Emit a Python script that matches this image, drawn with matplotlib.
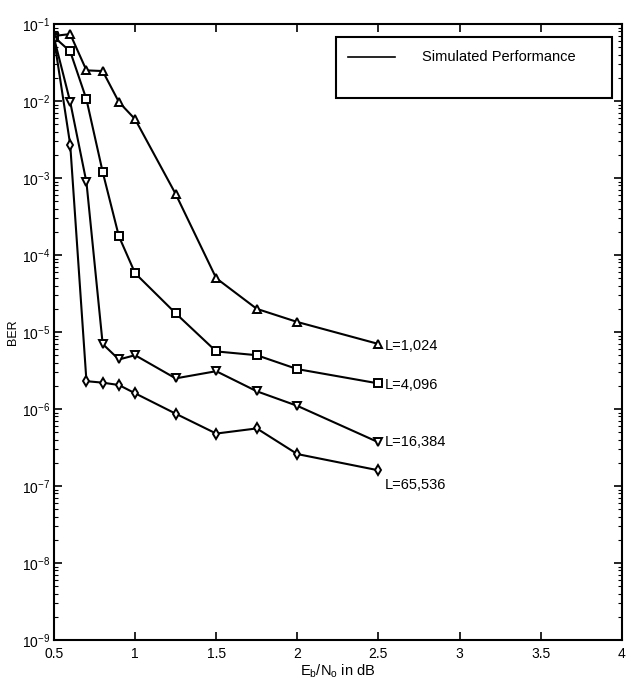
import matplotlib
matplotlib.use("Agg")
import matplotlib.pyplot as plt
import numpy as np
from matplotlib.patches import Rectangle
from matplotlib.lines import Line2D
from matplotlib.ticker import NullFormatter

## data
ebno = [0.5, 0.6, 0.7, 0.8, 0.9, 1.0, 1.25, 1.5, 1.75, 2.0, 2.5]

ber_1024 = [7.0e-2, 7.4e-2, 2.5e-2, 2.45e-2, 9.7e-3, 5.8e-3, 6.2e-4, 5.0e-5, 2.0e-5, 1.35e-5, 7.0e-6]
ber_4096 = [6.8e-2, 4.4e-2, 1.05e-2, 1.2e-3, 1.75e-4, 5.8e-5, 1.75e-5, 5.6e-6, 5.0e-6, 3.3e-6, 2.15e-6]
ber_16384 = [6.6e-2, 9.7e-3, 8.8e-4, 7.0e-6, 4.4e-6, 5.0e-6, 2.5e-6, 3.1e-6, 1.7e-6, 1.1e-6, 3.7e-7]
ber_65536 = [6.4e-2, 2.7e-3, 2.3e-6, 2.2e-6, 2.05e-6, 1.6e-6, 8.7e-7, 4.8e-7, 5.6e-7, 2.6e-7, 1.6e-7]

labels = ['L=1,024', 'L=4,096', 'L=16,384', 'L=65,536']
markers = ['^', 's', 'v', 'd']
label_offsets = [(6, -2), (6, -2), (6, 0), (6, -15)]  # pixels from last point

xticks = [0.5, 1, 1.5, 2, 2.5, 3, 3.5, 4]
xtick_labels = ['0.5', '1', '1.5', '2', '2.5', '3', '3.5', '4']

plt.rcParams['font.family'] = ['Liberation Sans Narrow', 'Liberation Sans', 'DejaVu Sans']
plt.rcParams['mathtext.default'] = 'regular'

fig = plt.figure(figsize=(6.28, 6.86), dpi=100)
fig.set_facecolor('white')
ax = fig.add_axes([0.086, 0.067, 0.904, 0.898])

series = [ber_1024, ber_4096, ber_16384, ber_65536]
for data, mk, lab, off in zip(series, markers, labels, label_offsets):
    ax.plot(ebno, data, color='black', linewidth=1.5, marker=mk, markersize=5.5,
            markerfacecolor='white', markeredgecolor='black', markeredgewidth=1.4)
    ax.annotate(lab, xy=(ebno[-1], data[-1]), xytext=off, textcoords='offset pixels',
                ha='left', va='center', fontsize=10.5)

ax.set_yscale('log')
ax.set_xlim(0.5, 4)
ax.set_ylim(1e-9, 1e-1)
ax.set_xticks(xticks)
ax.set_xticklabels(xtick_labels)
ax.yaxis.set_minor_formatter(NullFormatter())
ax.tick_params(which='both', direction='in', top=True, right=True, labelsize=10)
ax.tick_params(axis='y', pad=3)
ax.tick_params(axis='x', pad=5)
ax.tick_params(which='major', length=6, width=1.2)
ax.tick_params(which='minor', length=3, width=0.8)
for s in ax.spines.values():
    s.set_linewidth(1.5)

ax.set_xlabel(r'E$_b$/N$_o$ in dB', fontsize=10.5, labelpad=1)
ax.set_ylabel('BER', fontsize=9, labelpad=2)

## legend box drawn by hand (MATLAB style)
ax.add_patch(Rectangle((0.4965, 0.880), 0.4855, 0.099, transform=ax.transAxes,
                       facecolor='white', edgecolor='black', linewidth=1.5, zorder=5))
ax.add_line(Line2D([0.5176, 0.600], [0.9464, 0.9464], transform=ax.transAxes,
                   color='black', linewidth=1.2, zorder=6))
ax.text(0.648, 0.9464, 'Simulated Performance', transform=ax.transAxes,
        ha='left', va='center', fontsize=10.5, zorder=6)

fig.savefig('out.png', dpi=100)
